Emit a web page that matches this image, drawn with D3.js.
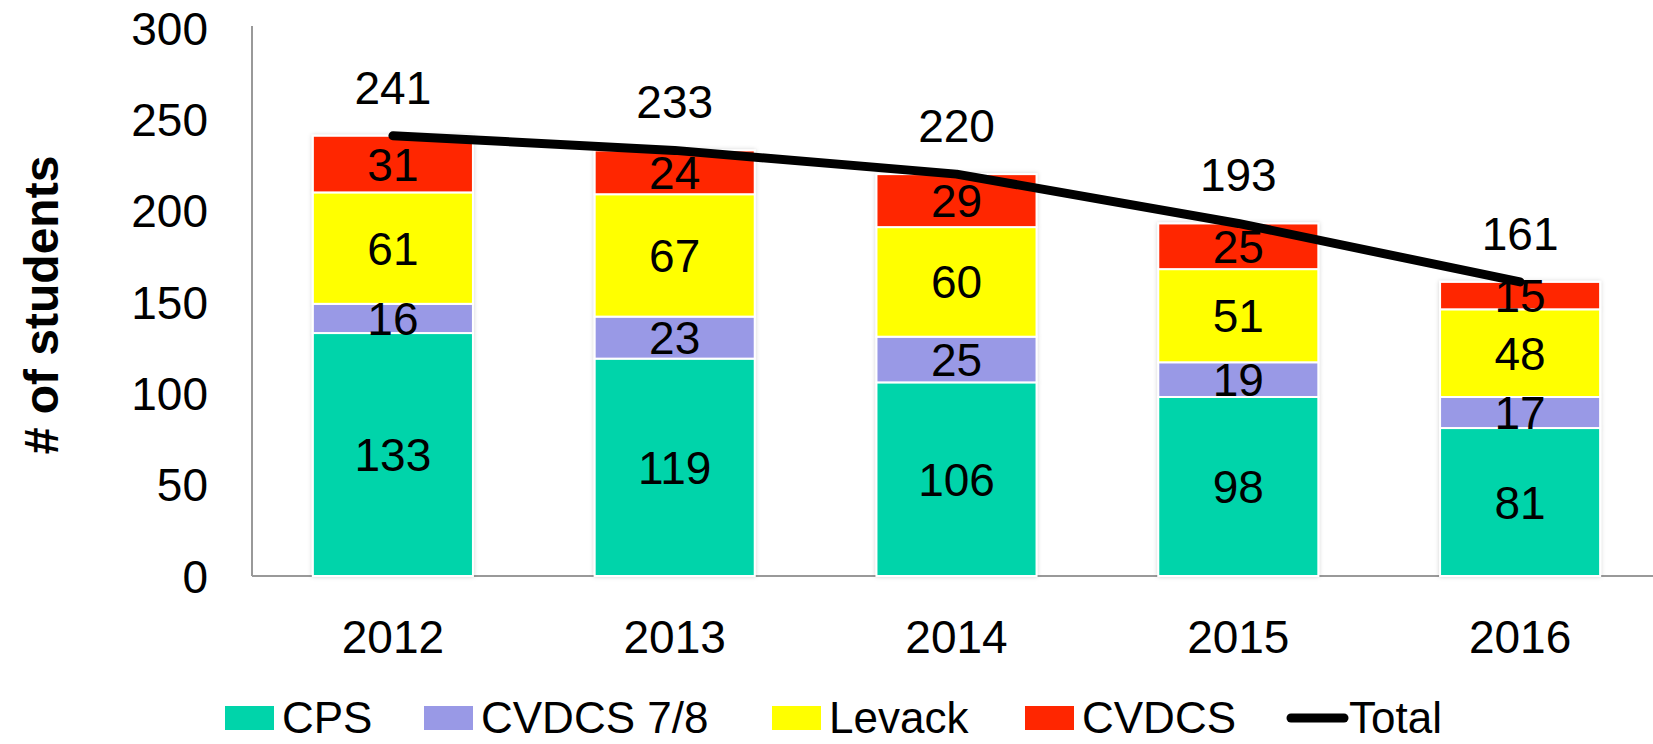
<!DOCTYPE html>
<html>
<head>
<meta charset="utf-8">
<script src="https://cdn.jsdelivr.net/npm/d3@7"></script>
<style>
  body { margin: 0; background: #fff; }
  svg text { font-family: "Liberation Sans", Arial, sans-serif; fill: #000; }
</style>
</head>
<body>
<svg width="1653" height="744"></svg>
<script>
// data
var years = ["2012", "2013", "2014", "2015", "2016"];
var cps = [133, 119, 106, 98, 81];
var cvdcs78 = [16, 23, 25, 19, 17];
var levack = [61, 67, 60, 51, 48];
var cvdcs = [31, 24, 29, 25, 15];
var total = [241, 233, 220, 193, 161];
var yTicks = [0, 50, 100, 150, 200, 250, 300];

var seriesNames = ["CPS", "CVDCS 7/8", "Levack", "CVDCS"];
var seriesColors = ["#00d4aa", "#9999e6", "#ffff00", "#ff2600"];

var svg = d3.select("svg"),
    margin = {top: 28, left: 252, bottom: 168};

var rows = years.map(function(y, i) {
  return {year: y, "CPS": cps[i], "CVDCS 7/8": cvdcs78[i], "Levack": levack[i], "CVDCS": cvdcs[i], total: total[i]};
});

var x = d3.scaleBand().domain(years).range([margin.left, 1661])
    .paddingInner(0.432).paddingOuter(0.216);
var y = d3.scaleLinear().domain([0, 300]).range([576, margin.top]);

var defs = svg.append("defs");
defs.append("filter").attr("id", "shadow")
    .attr("x", "-10%").attr("y", "-10%").attr("width", "120%").attr("height", "120%")
  .append("feDropShadow")
    .attr("dx", 0).attr("dy", 0).attr("stdDeviation", 2)
    .attr("flood-color", "#000").attr("flood-opacity", 0.18);

// axes
svg.append("line")
    .attr("x1", margin.left).attr("x2", margin.left)
    .attr("y1", y(300) - 2).attr("y2", y(0))
    .attr("stroke", "#999").attr("stroke-width", 2);
svg.append("line")
    .attr("x1", margin.left).attr("x2", 1653)
    .attr("y1", y(0)).attr("y2", y(0))
    .attr("stroke", "#999").attr("stroke-width", 2);

svg.append("g").selectAll("text")
  .data(yTicks)
  .enter().append("text")
    .attr("x", 208)
    .attr("y", function(d) { return y(d); })
    .attr("dy", "0.36em")
    .attr("text-anchor", "end")
    .style("font-size", "46px")
    .text(function(d) { return d; });

svg.append("g").selectAll("text")
  .data(years)
  .enter().append("text")
    .attr("x", function(d) { return x(d) + x.bandwidth() / 2; })
    .attr("y", 653)
    .attr("text-anchor", "middle")
    .style("font-size", "46px")
    .text(function(d) { return d; });

svg.append("text")
    .attr("transform", "translate(58,305) rotate(-90)")
    .attr("text-anchor", "middle")
    .style("font-size", "48px")
    .style("font-weight", "bold")
    .text("# of students");

// stacked bars
var stack = d3.stack().keys(seriesNames)(rows);

var layers = svg.append("g").attr("filter", "url(#shadow)")
  .selectAll("g")
  .data(stack)
  .enter().append("g")
    .attr("fill", function(d, i) { return seriesColors[i]; });

layers.selectAll("rect")
  .data(function(d) { return d; })
  .enter().append("rect")
    .attr("x", function(d) { return x(d.data.year); })
    .attr("y", function(d) { return y(d[1]); })
    .attr("width", x.bandwidth())
    .attr("height", function(d) { return y(d[0]) - y(d[1]); })
    .attr("stroke", "#fff")
    .attr("stroke-width", 2);

var labels = svg.append("g");
stack.forEach(function(layer) {
  labels.selectAll(null)
    .data(layer)
    .enter().append("text")
      .attr("x", function(d) { return x(d.data.year) + x.bandwidth() / 2; })
      .attr("y", function(d) { return y((d[0] + d[1]) / 2); })
      .attr("dy", "0.36em")
      .attr("text-anchor", "middle")
      .style("font-size", "46px")
      .text(function(d) { return d[1] - d[0]; });
});

// total line
var line = d3.line()
    .x(function(d) { return x(d.year) + x.bandwidth() / 2; })
    .y(function(d) { return y(d.total); });

svg.append("path")
    .datum(rows)
    .attr("d", line)
    .attr("fill", "none")
    .attr("stroke", "#000")
    .attr("stroke-width", 9)
    .attr("stroke-linecap", "round")
    .attr("stroke-linejoin", "round");

svg.append("g").selectAll("text")
  .data(rows)
  .enter().append("text")
    .attr("x", function(d) { return x(d.year) + x.bandwidth() / 2; })
    .attr("y", function(d) { return y(d.total) - 32; })
    .attr("text-anchor", "middle")
    .style("font-size", "46px")
    .text(function(d) { return d.total; });

// legend
var legendX = [225, 424, 772, 1025, 1287];
var ly = 718;
var legend = svg.append("g");
seriesNames.concat(["Total"]).forEach(function(name, i) {
  var lx = legendX[i];
  if (i < 4) {
    legend.append("rect")
      .attr("x", lx).attr("y", ly - 12)
      .attr("width", 49).attr("height", 24)
      .attr("fill", seriesColors[i]);
  } else {
    legend.append("line")
      .attr("x1", lx + 4).attr("x2", lx + 57)
      .attr("y1", ly).attr("y2", ly)
      .attr("stroke", "#000").attr("stroke-width", 9)
      .attr("stroke-linecap", "round");
  }
  legend.append("text")
    .attr("x", i < 4 ? lx + 57 : lx + 62)
    .attr("y", ly + 15)
    .style("font-size", "44px")
    .text(name);
});
</script>
</body>
</html>
